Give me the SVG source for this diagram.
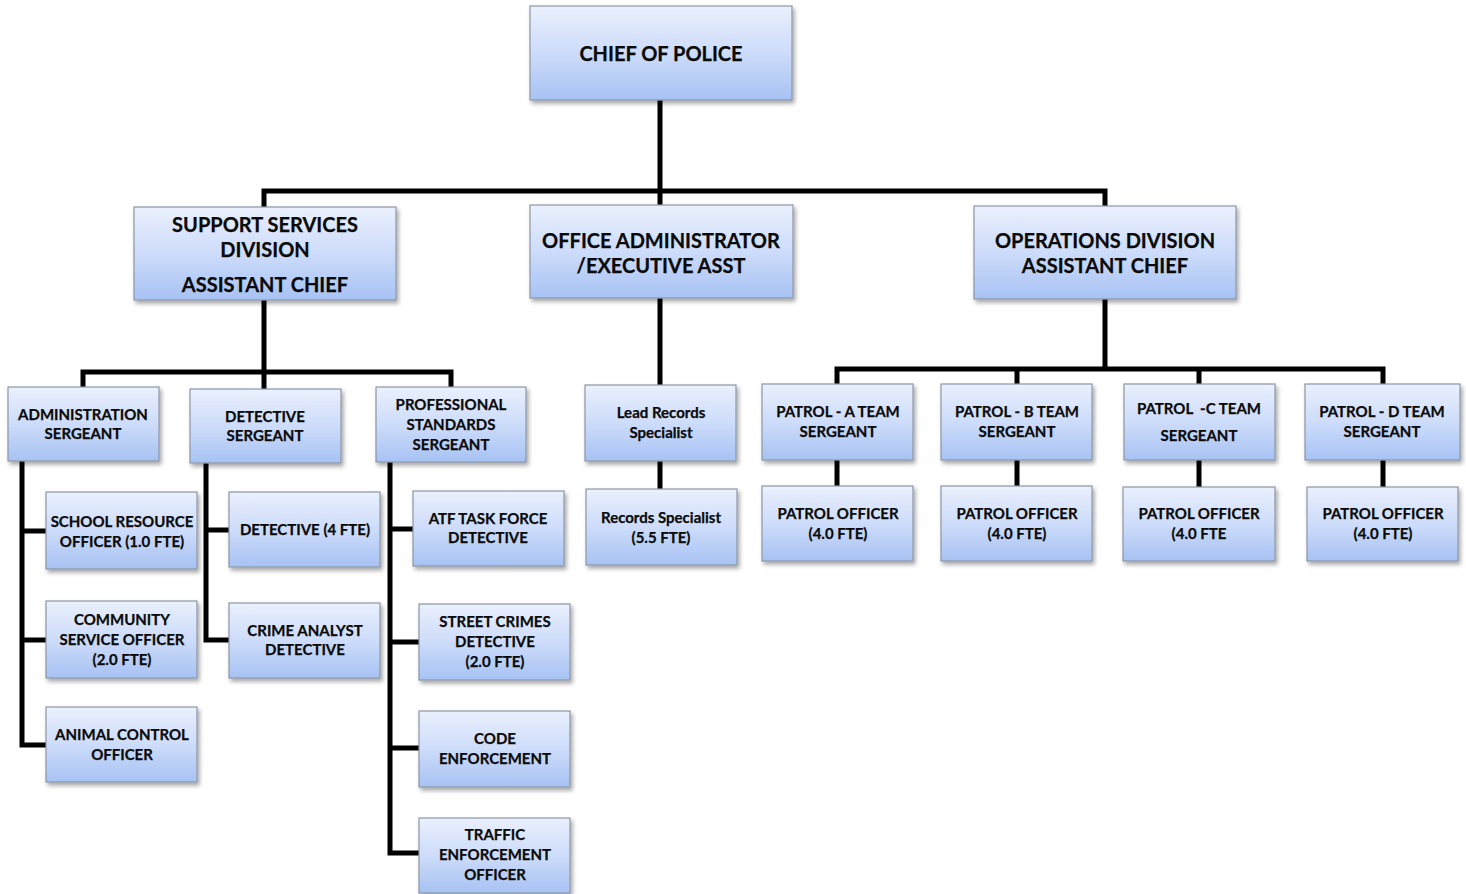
<svg xmlns="http://www.w3.org/2000/svg" width="1466" height="894" viewBox="0 0 1466 894">
<defs>
<linearGradient id="g" x1="0" y1="0" x2="0" y2="1">
<stop offset="0" stop-color="#eaf0fd"/>
<stop offset="0.5" stop-color="#cddcfa"/>
<stop offset="1" stop-color="#a7c2f3"/>
</linearGradient>
<filter id="sh" x="-10%" y="-10%" width="125%" height="130%">
<feDropShadow dx="2" dy="3" stdDeviation="2" flood-color="#000" flood-opacity="0.35"/>
</filter>
<style>
.b{fill:url(#g);stroke:#8c97a6;stroke-width:1.2;filter:url(#sh)}
.t{font-family:Lato,"Open Sans","Liberation Sans",sans-serif;font-weight:bold;fill:#0a0a0a;stroke:#0a0a0a;stroke-width:0.25;text-anchor:middle}
.l{font-size:20px}
.m{font-size:15px}
.c{fill:none;stroke:#000;stroke-width:5;stroke-linejoin:miter;stroke-linecap:square}
</style>
</defs>
<rect width="1466" height="894" fill="#fff"/>
<g id="connectors">
<path class="c" d="M660 100V191M264 191H1105M264 191V207M660 191V205M1105 191V206"/>
<path class="c" d="M264 300V372M83 372H451M83 372V387M264 372V389M451 372V387"/>
<path class="c" d="M660 298V385M660 461V489"/>
<path class="c" d="M1105 299V369M837 369H1383M837 369V384M1017 369V384M1199 369V384M1383 369V384"/>
<path class="c" d="M837 460V486M1017 460V486M1199 460V487M1383 460V487"/>
<path class="c" d="M22 461V745M22 531H46M22 640H46M22 745H46"/>
<path class="c" d="M206 463V640M206 530H229M206 640H229"/>
<path class="c" d="M390 462V853M390 529H413M390 642H419M390 748H419M390 853H419"/>
</g>
<g id="chief"><rect class="b" x="530" y="6" width="262" height="94"/><text class="t l" x="661" y="61">CHIEF OF POLICE</text></g>
<g id="support"><rect class="b" x="134" y="207" width="262" height="93"/><text class="t l" x="265" y="232">SUPPORT SERVICES</text><text class="t l" x="265" y="257">DIVISION</text><text class="t l" x="265" y="292">ASSISTANT CHIEF</text></g>
<g id="officeadmin"><rect class="b" x="530" y="205" width="263" height="93"/><text class="t l" x="661" y="248">OFFICE ADMINISTRATOR</text><text class="t l" x="661" y="273">/EXECUTIVE ASST</text></g>
<g id="operations"><rect class="b" x="974" y="206" width="262" height="93"/><text class="t l" x="1105" y="248">OPERATIONS DIVISION</text><text class="t l" x="1105" y="273">ASSISTANT CHIEF</text></g>

<g id="adminsgt"><rect class="b" x="8" y="387" width="151" height="74"/><text class="t m" x="83" y="420">ADMINISTRATION</text><text class="t m" x="83" y="439">SERGEANT</text></g>
<g id="detsgt"><rect class="b" x="190" y="389" width="151" height="74"/><text class="t m" x="265" y="422">DETECTIVE</text><text class="t m" x="265" y="441">SERGEANT</text></g>
<g id="profsgt"><rect class="b" x="376" y="387" width="150" height="75"/><text class="t m" x="451" y="410">PROFESSIONAL</text><text class="t m" x="451" y="430">STANDARDS</text><text class="t m" x="451" y="450">SERGEANT</text></g>
<g id="leadrecords"><rect class="b" x="585" y="385" width="151" height="76"/><text class="t m" x="661" y="418">Lead Records</text><text class="t m" x="661" y="438">Specialist</text></g>
<g id="patrolA"><rect class="b" x="762" y="384" width="151" height="76"/><text class="t m" x="838" y="417">PATROL - A TEAM</text><text class="t m" x="838" y="437">SERGEANT</text></g>
<g id="patrolB"><rect class="b" x="941" y="384" width="151" height="76"/><text class="t m" x="1017" y="417">PATROL - B TEAM</text><text class="t m" x="1017" y="437">SERGEANT</text></g>
<g id="patrolC"><rect class="b" x="1124" y="384" width="151" height="76"/><text class="t m" x="1199" y="414" xml:space="preserve">PATROL  -C TEAM</text><text class="t m" x="1199" y="441">SERGEANT</text></g>
<g id="patrolD"><rect class="b" x="1305" y="384" width="155" height="76"/><text class="t m" x="1382" y="417">PATROL - D TEAM</text><text class="t m" x="1382" y="437">SERGEANT</text></g>

<g id="records"><rect class="b" x="586" y="489" width="151" height="76"/><text class="t m" x="661" y="523">Records Specialist</text><text class="t m" x="661" y="543">(5.5 FTE)</text></g>
<g id="officerA"><rect class="b" x="762" y="486" width="151" height="75"/><text class="t m" x="838" y="519">PATROL OFFICER</text><text class="t m" x="838" y="539">(4.0 FTE)</text></g>
<g id="officerB"><rect class="b" x="941" y="486" width="151" height="75"/><text class="t m" x="1017" y="519">PATROL OFFICER</text><text class="t m" x="1017" y="539">(4.0 FTE)</text></g>
<g id="officerC"><rect class="b" x="1123" y="487" width="152" height="74"/><text class="t m" x="1199" y="519">PATROL OFFICER</text><text class="t m" x="1199" y="539">(4.0 FTE</text></g>
<g id="officerD"><rect class="b" x="1307" y="487" width="151" height="74"/><text class="t m" x="1383" y="519">PATROL OFFICER</text><text class="t m" x="1383" y="539">(4.0 FTE)</text></g>

<g id="sro"><rect class="b" x="46" y="492" width="151" height="77"/><text class="t m" x="122" y="527">SCHOOL RESOURCE</text><text class="t m" x="122" y="547">OFFICER (1.0 FTE)</text></g>
<g id="cso"><rect class="b" x="46" y="601" width="151" height="77"/><text class="t m" x="122" y="625">COMMUNITY</text><text class="t m" x="122" y="645">SERVICE OFFICER</text><text class="t m" x="122" y="665">(2.0 FTE)</text></g>
<g id="animal"><rect class="b" x="46" y="707" width="151" height="75"/><text class="t m" x="122" y="740">ANIMAL CONTROL</text><text class="t m" x="122" y="760">OFFICER</text></g>

<g id="detective"><rect class="b" x="229" y="492" width="151" height="75"/><text class="t m" x="305" y="535">DETECTIVE (4 FTE)</text></g>
<g id="analyst"><rect class="b" x="229" y="603" width="151" height="75"/><text class="t m" x="305" y="636">CRIME ANALYST</text><text class="t m" x="305" y="655">DETECTIVE</text></g>

<g id="atf"><rect class="b" x="413" y="491" width="151" height="75"/><text class="t m" x="488" y="524">ATF TASK FORCE</text><text class="t m" x="488" y="543">DETECTIVE</text></g>
<g id="street"><rect class="b" x="419" y="604" width="151" height="76"/><text class="t m" x="495" y="627">STREET CRIMES</text><text class="t m" x="495" y="647">DETECTIVE</text><text class="t m" x="495" y="667">(2.0 FTE)</text></g>
<g id="code"><rect class="b" x="419" y="711" width="151" height="76"/><text class="t m" x="495" y="744">CODE</text><text class="t m" x="495" y="764">ENFORCEMENT</text></g>
<g id="traffic"><rect class="b" x="419" y="818" width="151" height="75"/><text class="t m" x="495" y="840">TRAFFIC</text><text class="t m" x="495" y="860">ENFORCEMENT</text><text class="t m" x="495" y="880">OFFICER</text></g>
</svg>
